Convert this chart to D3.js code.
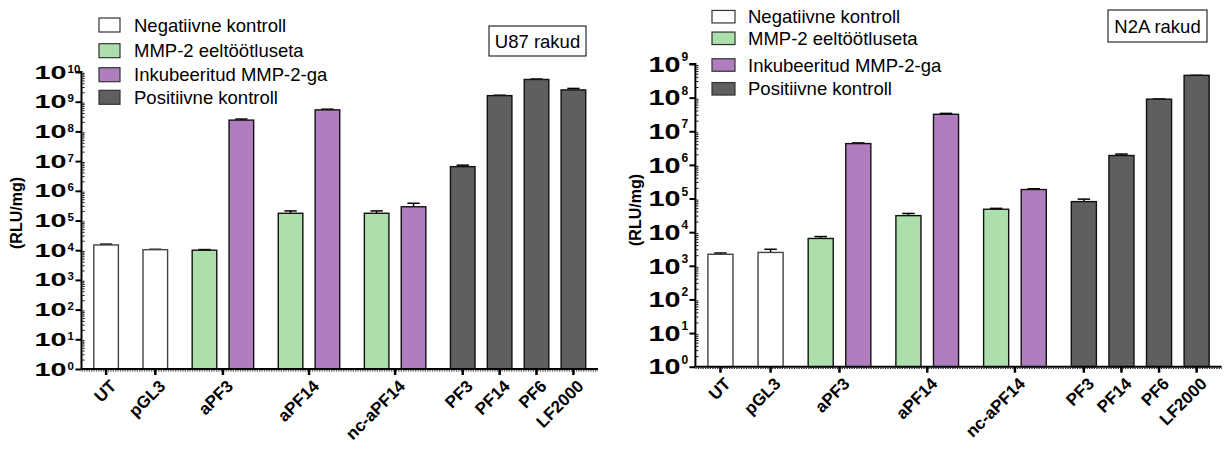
<!DOCTYPE html>
<html>
<head>
<meta charset="utf-8">
<script src="https://cdn.jsdelivr.net/npm/d3@7"></script>
<style>
  body { margin: 0; background: #fff; }
  text { font-family: Arial, "Liberation Sans", sans-serif; }
</style>
</head>
<body>
<svg id="chart" width="1225" height="455"></svg>
<script>
// x labels and series
var labels = ["UT", "pGL3", "aPF3", "aPF14", "nc-aPF14", "PF3", "PF14", "PF6", "LF2000"];
var seriesNames = ["Negatiivne kontroll", "MMP-2 eeltöötluseta", "Inkubeeritud MMP-2-ga", "Positiivne kontroll"];
var seriesColors = ["#ffffff", "#addfad", "#b07ebf", "#5f5f5f"];

// each bar: which label, which series
var barLabel  = [0, 1, 2, 2, 3, 3, 4, 4, 5, 6, 7, 8];
var barSeries = [0, 0, 1, 2, 1, 2, 1, 2, 3, 3, 3, 3];

// U87 (RLU/mg): mean and top of error bar
var u87Values = [1.5e4, 1.04e4, 1.0e4, 2.4e8, 1.75e5, 5.3e8, 1.75e5, 2.9e5, 6.5e6, 1.6e9, 5.6e9, 2.5e9];
var u87Err    = [1.6e4, 1.07e4, 1.05e4, 2.6e8, 2.1e5, 5.6e8, 2.1e5, 3.8e5, 7.3e6, 1.65e9, 5.8e9, 2.8e9];

// N2A (RLU/mg)
var n2aValues = [2.2e3, 2.5e3, 6.5e3, 4.3e6, 3.1e4, 3.2e7, 4.8e4, 1.85e5, 8.1e4, 1.9e6, 9.0e7, 4.6e8];
var n2aErr    = [2.4e3, 3.1e3, 7.4e3, 4.5e6, 3.6e4, 3.4e7, 5.1e4, 1.95e5, 9.6e4, 2.1e6, 9.1e7, 4.6e8];

var yTicksU87 = d3.range(0, 11);
var yTicksN2A = d3.range(0, 10);

var svg = d3.select("#chart");

// bar slots in units: bar is 2 wide, gap 1 within a cluster, 2 between clusters
var slots = [];
var pos = 0;
barLabel.forEach(function (l, i) {
  if (i > 0) {
    var same = l === barLabel[i - 1] || (barSeries[i] === 3 && barSeries[i - 1] === 3);
    pos += 2 + (same ? 1 : 2);
  }
  slots.push(pos);
});

function panel(cfg) {
  var g = svg.append("g");
  var x = d3.scaleLinear().domain([-2, d3.max(slots) + 2]).range([cfg.left, cfg.right]);
  var y = d3.scaleLog().domain([1, Math.pow(10, cfg.maxExp)]).range([cfg.base, cfg.top]);
  var unit = x(1) - x(0);

  var bars = cfg.values.map(function (v, i) {
    return {v: v, e: cfg.err[i], s: barSeries[i], p: slots[i]};
  });

  // error bars (top only)
  var eb = g.selectAll(".err").data(bars).enter().append("g");
  eb.append("line")
    .attr("x1", function (d) { return x(d.p); })
    .attr("x2", function (d) { return x(d.p); })
    .attr("y1", function (d) { return y(d.v); })
    .attr("y2", function (d) { return y(d.e); })
    .attr("stroke", "#000").attr("stroke-width", 1.5);
  eb.append("line")
    .attr("x1", function (d) { return x(d.p) - unit * 0.5; })
    .attr("x2", function (d) { return x(d.p) + unit * 0.5; })
    .attr("y1", function (d) { return y(d.e); })
    .attr("y2", function (d) { return y(d.e); })
    .attr("stroke", "#000").attr("stroke-width", 1.5);

  g.selectAll(".bar").data(bars).enter().append("rect")
    .attr("x", function (d) { return x(d.p - 1); })
    .attr("width", 2 * unit)
    .attr("y", function (d) { return y(d.v); })
    .attr("height", function (d) { return cfg.base - y(d.v); })
    .attr("fill", function (d) { return seriesColors[d.s]; })
    .attr("stroke", function (d) { return d.s === 0 ? "#444" : "#111"; })
    .attr("stroke-width", 1.4);

  // y axis
  var ya = g.append("g").attr("transform", "translate(" + cfg.left + ",0)");
  ya.call(d3.axisLeft(y).tickValues(cfg.yTicks.map(function (k) { return Math.pow(10, k); }))
      .tickSize(6).tickFormat(""));
  ya.select(".domain").attr("stroke-width", 2).attr("d", "M-6," + cfg.top + "H0V" + cfg.base);
  ya.selectAll(".tick line").attr("stroke-width", 2);
  // minor ticks
  var minors = [];
  for (var k = 0; k < cfg.maxExp; k++) for (var m = 2; m < 10; m++) minors.push(m * Math.pow(10, k));
  ya.selectAll(".minor").data(minors).enter().append("line")
    .attr("x1", 1).attr("x2", 3)
    .attr("y1", function (d) { return y(d); }).attr("y2", function (d) { return y(d); })
    .attr("stroke", "#000").attr("stroke-width", 1);

  cfg.yTicks.forEach(function (k) {
    var ty = y(Math.pow(10, k));
    g.append("text")
      .attr("x", cfg.left - 15).attr("y", ty + cfg.baseDy)
      .attr("text-anchor", "end")
      .attr("font-size", cfg.baseFont).attr("font-weight", "bold")
      .attr("textLength", cfg.baseWidth).attr("lengthAdjust", "spacingAndGlyphs")
      .text("10");
    g.append("text")
      .attr("x", cfg.left - 14).attr("y", ty + cfg.expDy)
      .attr("font-size", cfg.expFont).attr("font-weight", "bold")
      .text(k);
  });

  g.append("text")
    .attr("transform", "translate(" + cfg.titleX + "," + cfg.titleY + ") rotate(-90)")
    .attr("text-anchor", "middle")
    .attr("font-size", 16).attr("font-weight", "bold")
    .text("(RLU/mg)");

  // x axis
  g.append("line")
    .attr("x1", cfg.left).attr("x2", cfg.right)
    .attr("y1", cfg.base).attr("y2", cfg.base)
    .attr("stroke", "#000").attr("stroke-width", 2);
  g.append("line")
    .attr("x1", cfg.left).attr("x2", cfg.right)
    .attr("y1", cfg.base + 1.8).attr("y2", cfg.base + 1.8)
    .attr("stroke", "#222").attr("stroke-width", 1.2)
    .attr("stroke-dasharray", "1.2,1.2");

  var tickPos = labels.map(function (l, li) {
    return d3.mean(slots.filter(function (s, i) { return barLabel[i] === li; }));
  });
  g.selectAll(".xt").data(tickPos).enter().append("line")
    .attr("x1", function (d) { return x(d); }).attr("x2", function (d) { return x(d); })
    .attr("y1", cfg.base).attr("y2", cfg.base + 6)
    .attr("stroke", "#000").attr("stroke-width", 2.5);
  g.selectAll(".xl").data(labels).enter().append("text")
    .attr("transform", function (d, i) {
      return "translate(" + (x(tickPos[i]) + 7) + "," + (cfg.base + 14) + ") rotate(-45)";
    })
    .attr("text-anchor", "end")
    .attr("dy", "0.35em")
    .attr("font-size", 17).attr("font-weight", "bold")
    .text(function (d) { return d; });

  // legend
  var lg = g.append("g");
  seriesNames.forEach(function (n, i) {
    var ry = cfg.legY[i];
    lg.append("rect")
      .attr("x", cfg.legX).attr("y", ry - cfg.swH / 2)
      .attr("width", cfg.swW).attr("height", cfg.swH)
      .attr("fill", seriesColors[i]).attr("stroke", "#333").attr("stroke-width", 1.2);
    lg.append("text")
      .attr("x", cfg.legTextX).attr("y", ry + 6.5)
      .attr("font-size", 18.5)
      .text(n);
  });

  // cell label box
  g.append("rect")
    .attr("x", cfg.box[0]).attr("y", cfg.box[1])
    .attr("width", cfg.box[2]).attr("height", cfg.box[3])
    .attr("fill", "#fff").attr("stroke", "#000").attr("stroke-width", 1);
  g.append("text")
    .attr("x", cfg.box[0] + cfg.box[2] / 2).attr("y", cfg.box[1] + cfg.box[3] / 2 + 6.5)
    .attr("text-anchor", "middle").attr("font-size", 18.5)
    .text(cfg.name);
}

panel({
  name: "U87 rakud", values: u87Values, err: u87Err, yTicks: yTicksU87, maxExp: 10,
  left: 81.5, right: 598, base: 369, top: 72,
  baseFont: 17.5, baseWidth: 32, baseDy: 6.5, expFont: 11.5, expDy: 0.5,
  titleX: 22, titleY: 213,
  legX: 99, legTextX: 134, swW: 21, swH: 14, legY: [25, 50.7, 74.7, 97.3],
  box: [489, 26, 97, 30]
});

panel({
  name: "N2A rakud", values: n2aValues, err: n2aErr, yTicks: yTicksN2A, maxExp: 9,
  left: 695.4, right: 1221.7, base: 366.7, top: 64,
  baseFont: 22, baseWidth: 32, baseDy: 7.7, expFont: 12, expDy: -3,
  titleX: 641, titleY: 210,
  legX: 712, legTextX: 748, swW: 23, swH: 12.5, legY: [16.7, 38.3, 65, 88.8],
  box: [1108, 10, 99, 32]
});
</script>
</body>
</html>
